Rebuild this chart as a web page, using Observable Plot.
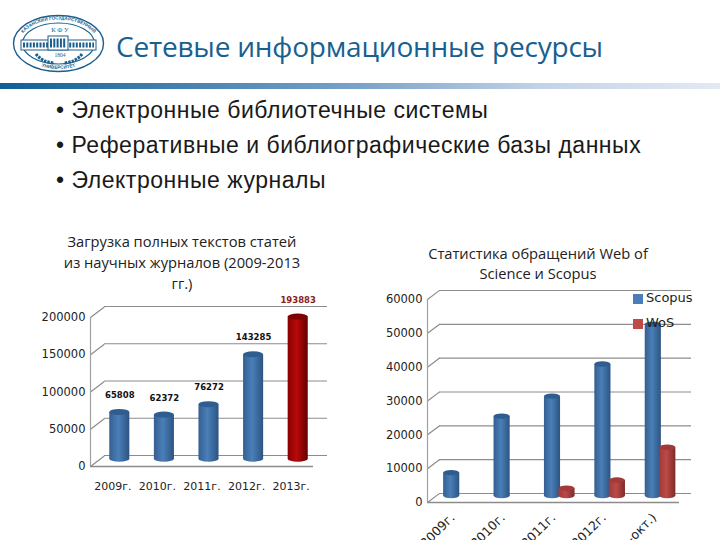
<!DOCTYPE html>
<html><head><meta charset="utf-8">
<script src="https://cdn.jsdelivr.net/npm/d3@7"></script>
<script src="https://cdn.jsdelivr.net/npm/@observablehq/plot@0.6"></script>
<style>
html,body{margin:0;padding:0;background:#fff;overflow:hidden}
#page{position:relative;width:720px;height:540px;overflow:hidden;background:#fff}
#page>*{position:absolute}
#title{left:116px;top:27px;font:28px "Open Sans";color:#17608f;white-space:nowrap;letter-spacing:-.2px}
#rule{left:0;top:83px;width:720px;height:6px;background:linear-gradient(90deg,#0f5f96,#7aa3c9 50%,#c3d2e7 75%,#e3eaf3)}
.bul{left:56px;font:23px "Liberation Sans";letter-spacing:.52px;color:#1a1a1a;white-space:nowrap}
.ct{font:14.7px "Open Sans";color:#222;text-align:center;line-height:21px}
.lg{font:13px "DejaVu Sans";color:#222;white-space:nowrap}
.sw{width:10px;height:10px}
svg text{font-family:"DejaVu Sans"}
</style></head><body><div id="page">
<svg id="logo" style="left:10px;top:14px" width="96" height="62" viewBox="0 0 96 62">
<defs><path id="arcT" d="M9,30 A39.5,24.5 0 0 1 88,30"/><path id="arcB" d="M14,42 A40,26 0 0 0 83,42"/></defs>
<ellipse cx="48.5" cy="29.5" rx="45" ry="28" fill="none" stroke="#1c5f8c" stroke-width="1.4"/>
<ellipse cx="48.5" cy="29.5" rx="36" ry="20.5" fill="none" stroke="#1c5f8c" stroke-width="1.2"/>
<text font-size="4.6" font-weight="bold" fill="#1c5f8c" style="font-family:'Liberation Sans'"><textPath href="#arcT" startOffset="50%" text-anchor="middle">КАЗАНСКИЙ ГОСУДАРСТВЕННЫЙ</textPath></text>
<text font-size="4.6" font-weight="bold" fill="#1c5f8c" style="font-family:'Liberation Sans'"><textPath href="#arcB" startOffset="50%" text-anchor="middle">УНИВЕРСИТЕТ</textPath></text>
<text x="50" y="18" font-size="6.5" text-anchor="middle" fill="#1c5f8c" style="font-family:'Liberation Serif'">К Ф У</text>
<rect x="11" y="26" width="75" height="10" fill="#fff" stroke="#1c5f8c"/>
<path d="M13,31H84" stroke="#1c5f8c" stroke-width="5" stroke-dasharray="2 1.3"/>
<rect x="38" y="22" width="20" height="14" fill="#fff" stroke="#1c5f8c"/>
<path d="M40,29H56" stroke="#1c5f8c" stroke-width="9" stroke-dasharray="2 1.3"/>
<text x="50" y="43" font-size="5.5" text-anchor="middle" fill="#1c5f8c" style="font-family:'Liberation Serif'">1804</text>
<path d="M26,40Q32,48 44,49M72,40Q66,48 54,49" fill="none" stroke="#1c5f8c" stroke-width="3" stroke-dasharray="2.5 1"/>
</svg>
<div id="title">Сетевые информационные ресурсы</div>
<div id="rule"></div>
<div class="bul" style="top:97px">• Электронные библиотечные системы</div>
<div class="bul" style="top:132px">• Реферативные и библиографические базы данных</div>
<div class="bul" style="top:167px">• Электронные журналы</div>
<div class="ct" style="left:39px;top:231px;width:286px">Загрузка полных текстов статей<br>из научных журналов (2009-2013<br>гг.)</div>
<div class="ct" style="left:399px;top:243px;width:278px;line-height:20px">Статистика обращений Web of<br>Science и Scopus</div>
<div id="c1" style="left:0;top:290px"></div>
<div id="c2" style="left:380px;top:280px"></div>
<div class="sw" style="left:633px;top:294px;background:#4a7ebb"></div><div class="lg" style="left:646px;top:290px">Scopus</div>
<div class="sw" style="left:633px;top:319px;background:#be4b48"></div><div class="lg" style="left:646px;top:315px">WoS</div>
</div>
<script>
const downloadYears = ["2009г.", "2010г.", "2011г.", "2012г.", "2013г."];
const downloads = [65808, 62372, 76272, 143285, 193883];
const downloadTicks = [0, 50000, 100000, 150000, 200000];
const accessYears = ["2009г.", "2010г.", "2011г.", "2012г.", "2013г. (янв.-окт.)"];
const scopus = [7800, 24500, 30400, 39900, 51700];
const wos = [null, null, 3200, 5600, 15300];
const accessTicks = [0, 10000, 20000, 30000, 40000, 50000, 60000];

function grad(id, c0, c1, c2) {
  return () => {
    const s = d3.create("svg:defs");
    const g = s.append("linearGradient").attr("id", id);
    [[0, c0], [.45, c1], [1, c2]].forEach(([o, c]) => g.append("stop").attr("offset", o).attr("stop-color", c));
    return s.node();
  };
}
const defs = [grad("gb", "#345f92", "#4a7fb8", "#2c5482"), grad("gr", "#8a0000", "#b80a0a", "#640000"), grad("gw", "#a23a38", "#bb4a47", "#7d2c2a")];

function cyl(rows, half, capH, base, dx, dy, fill, cap) {
  const a = {x1: d => d.i - half, x2: d => d.i + half, dx, dy, rx: 50, ry: 50};
  return [
    Plot.rectY(rows, {...a, y1: d => base - capH, y2: d => base + capH, fill}),
    Plot.rectY(rows, {x1: a.x1, x2: a.x2, dx, dy, y1: d => base, y2: "v", fill}),
    Plot.rectY(rows, {...a, y1: d => d.v - capH, y2: d => d.v + capH, fill: cap})
  ];
}
function walls(ticks, xmin, xmax, wx, wy, dyUnits, xUnits) {
  return [
    Plot.ruleY(ticks, {x1: xmin, x2: xmax, dx: wx, dy: wy, stroke: "#8c8c8c", strokeWidth: 1.2, strokeOpacity: 1}),
    Plot.link(ticks, {x1: xmin, x2: xmin + xUnits, y1: d => d, y2: d => d + dyUnits, stroke: "#8c8c8c", strokeWidth: 1.2}),
    Plot.ruleX([xmin], {stroke: "#a0a0a0", strokeWidth: 1.2}),
    Plot.ruleY([0], {stroke: "#8c8c8c", strokeWidth: 1.4})
  ];
}

const r1 = downloads.map((v, i) => ({i, v}));
const c1 = Plot.plot({
  width: 340, height: 220, marginLeft: 90, marginRight: 27, marginTop: 27, marginBottom: 44,
  x: {type: "linear", domain: [-.5, 4.5]},
  y: {domain: [0, 200000]},
  style: {background: "none", overflow: "visible"},
  marks: [
    ...defs,
    ...walls(downloadTicks, -.5, 4.5, 14, -11, 14000, .31),
    Plot.axisY(downloadTicks, {tickSize: 0, tickPadding: 5, fontSize: 11.5, tickFormat: d => String(d), label: null, color: "#222"}),
    Plot.axisX([0, 1, 2, 3, 4], {tickSize: 0, tickPadding: 16, fontSize: 11, tickFormat: i => downloadYears[i], label: null, color: "#222"}),
    ...cyl(r1.slice(0, 4), .225, 4000, 3000, 7, -5, "url(#gb)", "#2f5d8f"),
    ...cyl(r1.slice(4), .225, 4000, 3000, 7, -5, "url(#gr)", "#7e0000"),
    Plot.text(r1, {x: "i", y: "v", text: d => String(d.v), dx: 7, dy: -22, fontSize: 8.5, fontWeight: "bold", fill: d => d.i === 4 ? "#8a1c1c" : "#111"})
  ]
});
document.getElementById("c1").append(c1);

const rs = scopus.map((v, i) => ({i, v}));
const rw = wos.map((v, i) => ({i, v})).filter(d => d.v != null);
const c2 = Plot.plot({
  width: 340, height: 260, marginLeft: 47, marginRight: 41, marginTop: 19, marginBottom: 38,
  x: {type: "linear", domain: [-.5, 4.5]},
  y: {domain: [0, 60000]},
  style: {background: "none", overflow: "visible"},
  marks: [
    ...defs,
    ...walls(accessTicks, -.5, 4.5, 12, -9, 2700, .24),
    Plot.axisY(accessTicks, {tickSize: 0, tickPadding: 5, fontSize: 11.5, tickFormat: d => String(d), label: null, color: "#222"}),
    Plot.axisX([0, 1, 2, 3, 4], {tickSize: 0, tickPadding: 13, fontSize: 12.5, tickRotate: -45, tickFormat: i => accessYears[i], label: null, color: "#222"}),
    ...cyl(rs, .16, 800, 1000, -1, -3, "url(#gb)", "#2f5d8f"),
    ...cyl(rw, .16, 800, 1000, 13.5, -3, "url(#gw)", "#a03b39")
  ]
});
document.getElementById("c2").append(c2);
</script></body></html>
